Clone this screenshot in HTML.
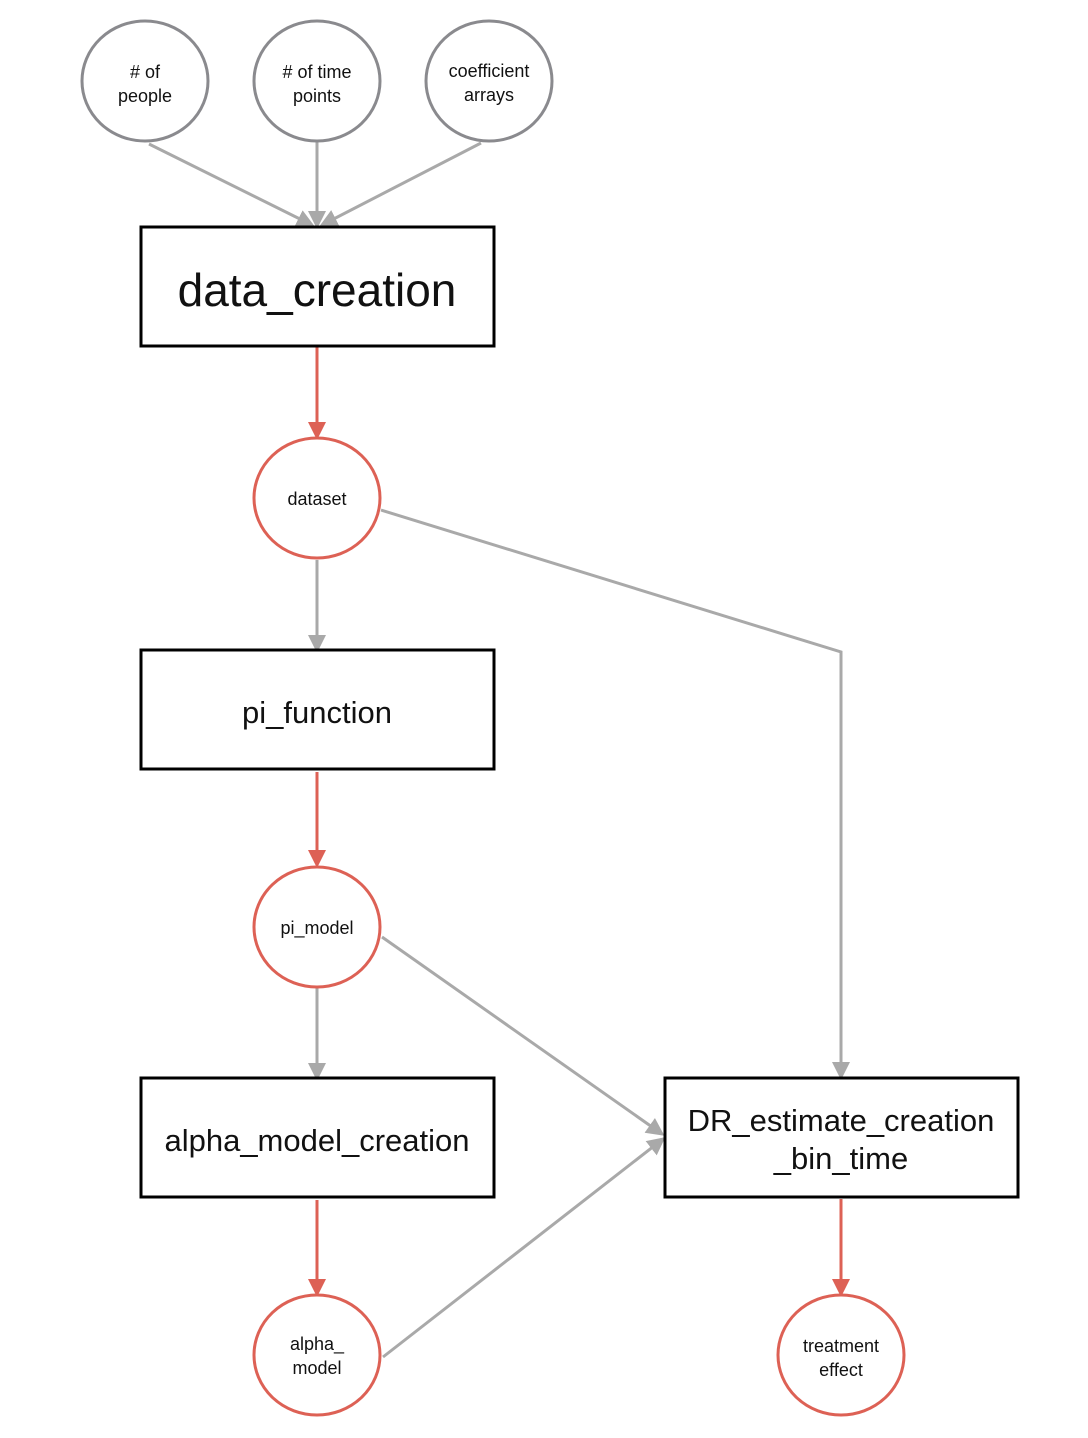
<!DOCTYPE html>
<html><head><meta charset="utf-8"><style>
html,body{margin:0;padding:0;background:#fff}
svg{display:block}
text{font-family:"Liberation Sans",sans-serif;fill:#111;text-anchor:middle}
</style></head><body>
<svg width="1088" height="1438" viewBox="0 0 1088 1438">
<defs>
<marker id="g" markerWidth="6" markerHeight="6" refX="5" refY="3" orient="auto" markerUnits="strokeWidth"><path d="M0,0 L6,3 L0,6 z" fill="#a9a9a9"/></marker>
<marker id="r" markerWidth="6" markerHeight="6" refX="5" refY="3" orient="auto" markerUnits="strokeWidth"><path d="M0,0 L6,3 L0,6 z" fill="#dd6155"/></marker>
</defs>
<g stroke="#a9a9a9" stroke-width="3" fill="none">
<line x1="149" y1="144" x2="312" y2="225" marker-end="url(#g)"/>
<line x1="317" y1="140" x2="317" y2="226" marker-end="url(#g)"/>
<line x1="481" y1="143" x2="322" y2="225" marker-end="url(#g)"/>
<line x1="317" y1="560" x2="317" y2="650" marker-end="url(#g)"/>
<polyline points="381,510 841,652 841,1077" marker-end="url(#g)"/>
<line x1="317" y1="987" x2="317" y2="1078" marker-end="url(#g)"/>
<line x1="382" y1="937" x2="662" y2="1134" marker-end="url(#g)"/>
<line x1="383" y1="1357" x2="663" y2="1139" marker-end="url(#g)"/>
</g>
<g stroke="#dd6155" stroke-width="3" fill="none">
<line x1="317" y1="346" x2="317" y2="437" marker-end="url(#r)"/>
<line x1="317" y1="772" x2="317" y2="865" marker-end="url(#r)"/>
<line x1="317" y1="1200" x2="317" y2="1294" marker-end="url(#r)"/>
<line x1="841" y1="1199" x2="841" y2="1294" marker-end="url(#r)"/>
</g>
<g stroke="#8a8a8e" stroke-width="3" fill="#fff">
<ellipse cx="145" cy="81" rx="63" ry="60"/>
<ellipse cx="317" cy="81" rx="63" ry="60"/>
<ellipse cx="489" cy="81" rx="63" ry="60"/>
</g>
<g stroke="#dd6155" stroke-width="3" fill="#fff">
<ellipse cx="317" cy="498" rx="63" ry="60"/>
<ellipse cx="317" cy="927" rx="63" ry="60"/>
<ellipse cx="317" cy="1355" rx="63" ry="60"/>
<ellipse cx="841" cy="1355" rx="63" ry="60"/>
</g>
<g stroke="#000" stroke-width="3" fill="#fff">
<rect x="141" y="227" width="353" height="119"/>
<rect x="141" y="650" width="353" height="119"/>
<rect x="141" y="1078" width="353" height="119"/>
<rect x="665" y="1078" width="353" height="119"/>
</g>
<g font-size="18">
<text x="145" y="78">#  of</text><text x="145" y="102">people</text>
<text x="317" y="78"># of time</text><text x="317" y="102">points</text>
<text x="489" y="77">coefficient</text><text x="489" y="101">arrays</text>
<text x="317" y="505">dataset</text>
<text x="317" y="934">pi_model</text>
<text x="317" y="1350">alpha_</text><text x="317" y="1374">model</text>
<text x="841" y="1352">treatment</text><text x="841" y="1376">effect</text>
</g>
<text x="317" y="306" font-size="46">data_creation</text>
<text x="317" y="723" font-size="31">pi_function</text>
<text x="317" y="1151" font-size="31">alpha_model_creation</text>
<text x="841" y="1131" font-size="31">DR_estimate_creation</text>
<text x="841" y="1169" font-size="31">_bin_time</text>
</svg>
</body></html>
